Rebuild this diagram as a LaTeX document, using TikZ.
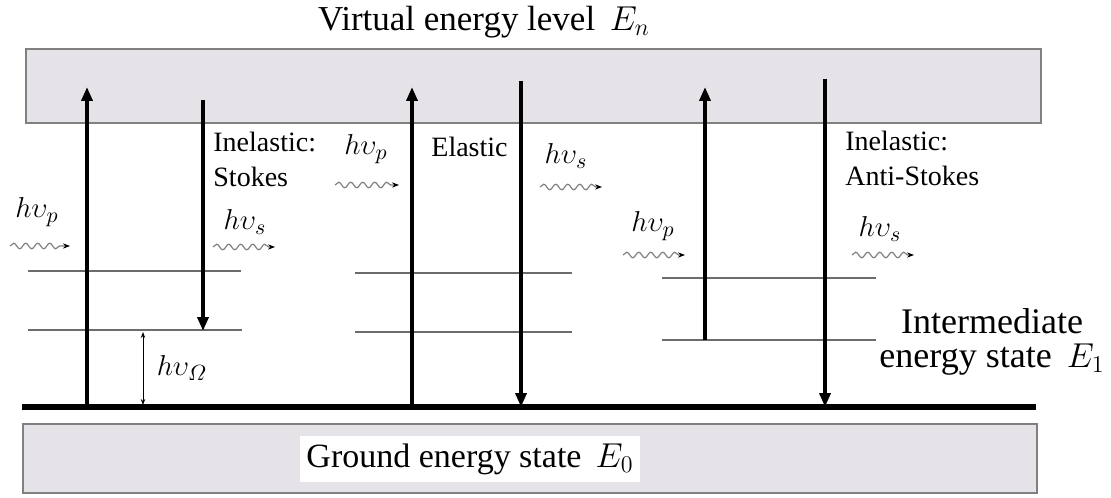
\documentclass[tikz,border=0pt]{standalone}
\usepackage{amsmath}
\usepackage{fontspec}
\setmainfont{Liberation Serif}
\usetikzlibrary{arrows.meta, decorations.pathmorphing}
\definecolor{bandfill}{RGB}{230,227,232}
\tikzstyle{bandbox} = [rectangle, draw=gray, fill=bandfill, line width=1.2pt, inner sep=0pt]
\tikzstyle{level} = [draw=gray!85!black, line width=1pt]
\tikzstyle{arrow} = [line width=2.1pt, -{Triangle[length=7pt, width=5.5pt]}]
\tikzstyle{ruler} = [line width=0.5pt, {Stealth[length=3pt]}-{Stealth[length=3pt]}]
\tikzstyle{photon} = [gray, line width=0.6pt, decorate, decoration={snake, amplitude=1.4pt, segment length=6pt, post length=3pt}, -{Stealth[length=3.5pt, black]}]
\tikzstyle{label} = [font=\fontsize{14}{17.5}\selectfont, align=left, anchor=north west, inner sep=0pt]
\tikzstyle{hv} = [font=\fontsize{15}{17}\selectfont, inner sep=0pt]

\begin{document}
\begin{tikzpicture}[x=0.5pt, y=-0.5pt]
    \useasboundingbox (0,0) rectangle (1111,497);

    % bands
    \node (vband) [bandbox, anchor=north west, minimum width=507.5pt, minimum height=37pt] at (25,48) {};
    \node (gband) [bandbox, anchor=north west, minimum width=507pt, minimum height=34.5pt] at (22,423) {};
    \node (vtitle) [font=\fontsize{17.5}{19}\selectfont] at (484,22) {Virtual energy level \,$E_n$};
    \node (gtitle) [fill=white, font=\fontsize{17}{19}\selectfont, inner xsep=3pt, inner ysep=4pt] at (470,459) {Ground energy state \,$E_0$};

    % ground line
    \coordinate (g1) at (22,407);
    \coordinate (g2) at (1036,407);
    \draw [line width=2.6pt] (g1) -- (g2);

    % intermediate levels
    \coordinate (s1a) at (28,271);  \coordinate (s1b) at (241,271);
    \coordinate (s2a) at (28,330);  \coordinate (s2b) at (242,330);
    \coordinate (e1a) at (355,273); \coordinate (e1b) at (572,273);
    \coordinate (e2a) at (355,332); \coordinate (e2b) at (572,332);
    \coordinate (a1a) at (662,278); \coordinate (a1b) at (876,278);
    \coordinate (a2a) at (662,340); \coordinate (a2b) at (876,340);
    \draw [level] (s1a) -- (s1b);
    \draw [level] (s2a) -- (s2b);
    \draw [level] (e1a) -- (e1b);
    \draw [level] (e2a) -- (e2b);
    \draw [level] (a1a) -- (a1b);
    \draw [level] (a2a) -- (a2b);

    % transitions
    \coordinate (up1) at (87,407);   \coordinate (top1) at (87,87);
    \coordinate (dn1) at (203,100);  \coordinate (bot1) at (203,331);
    \coordinate (up2) at (412,407);  \coordinate (top2) at (412,87);
    \coordinate (dn2) at (521,81);   \coordinate (bot2) at (521,407);
    \coordinate (up3) at (705,340);  \coordinate (top3) at (705,87);
    \coordinate (dn3) at (825,79);   \coordinate (bot3) at (825,407);
    \draw [arrow] (up1) -- (top1);
    \draw [arrow] (dn1) -- (bot1);
    \draw [arrow] (up2) -- (top2);
    \draw [arrow] (dn2) -- (bot2);
    \draw [arrow] (up3) -- (top3);
    \draw [arrow] (dn3) -- (bot3);

    % vibrational gap
    \coordinate (r1) at (143,332);
    \coordinate (r2) at (143,405);
    \draw [ruler] (r1) -- (r2);
    \node (omega) [hv] at (182,368) {$h\upsilon_{\varOmega}$};

    % photons
    \node (hp1) [hv] at (37,212) {$h\upsilon_p$};
    \coordinate (w1a) at (10,246);  \coordinate (w1b) at (70,246);
    \draw [photon] (w1a) -- (w1b);
    \node (hs1) [hv] at (245,222) {$h\upsilon_s$};
    \coordinate (w2a) at (213,247); \coordinate (w2b) at (275,247);
    \draw [photon] (w2a) -- (w2b);
    \node (hp2) [hv] at (366,149) {$h\upsilon_p$};
    \coordinate (w3a) at (335,185); \coordinate (w3b) at (399,185);
    \draw [photon] (w3a) -- (w3b);
    \node (hs2) [hv] at (566,156) {$h\upsilon_s$};
    \coordinate (w4a) at (540,187); \coordinate (w4b) at (602,187);
    \draw [photon] (w4a) -- (w4b);
    \node (hp3) [hv] at (653,226) {$h\upsilon_p$};
    \coordinate (w5a) at (623,255); \coordinate (w5b) at (685,255);
    \draw [photon] (w5a) -- (w5b);
    \node (hs3) [hv] at (880,229) {$h\upsilon_s$};
    \coordinate (w6a) at (852,255); \coordinate (w6b) at (914,255);
    \draw [photon] (w6a) -- (w6b);

    % process labels
    \node (stokes) [label] at (213,132) {Inelastic:\\Stokes};
    \node (elastic) [label] at (431,137) {Elastic};
    \node (astokes) [label] at (845,131) {Inelastic:\\Anti-Stokes};
    \node (inter) [font=\fontsize{18}{17}\selectfont, align=center, inner sep=0pt] at (992,342) {Intermediate\\energy state \,$E_1$};
  \end{tikzpicture}
\end{document}
